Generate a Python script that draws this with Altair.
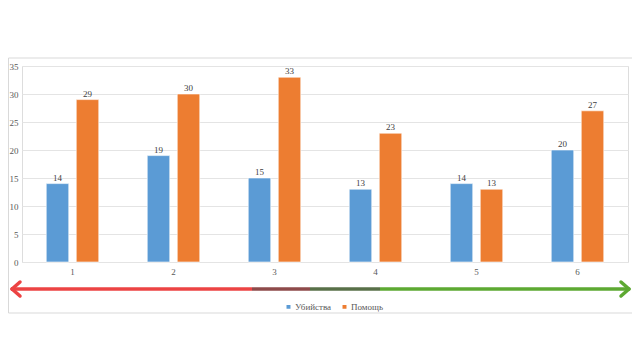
import altair as alt
import pandas as pd

categories = ["1", "2", "3", "4", "5", "6"]
kills = [14, 19, 15, 13, 14, 20]
helps = [29, 30, 33, 23, 13, 27]
series_names = ["Убийства", "Помощь"]
colors = ["#5B9BD5", "#ED7D31"]

rows = []
for c, k, h in zip(categories, kills, helps):
    rows.append({"cat": c, "series": series_names[0], "value": k})
    rows.append({"cat": c, "series": series_names[1], "value": h})
df = pd.DataFrame(rows)

W, H = 606, 196
FONT = "Liberation Serif"

x = alt.X("cat:N", sort=categories,
          scale=alt.Scale(paddingInner=0.48, paddingOuter=0.24),
          axis=alt.Axis(title=None, labelAngle=0, ticks=False, domain=False,
                        labelFont=FONT, labelFontSize=9, labelColor="#595959",
                        labelPadding=5))
xo = alt.XOffset("series:N", sort=series_names,
                 scale=alt.Scale(paddingInner=0.25))
y = alt.Y("value:Q", scale=alt.Scale(domain=[0, 35]),
          axis=alt.Axis(title=None, values=list(range(0, 36, 5)), ticks=False,
                        domain=False, labelFont=FONT, labelFontSize=9,
                        labelColor="#595959", labelPadding=4,
                        gridColor="#E4E4E4", gridWidth=1))

base = alt.Chart(df)
bars = base.mark_bar(stroke="white", strokeWidth=0.6).encode(
    x=x, xOffset=xo, y=y,
    color=alt.Color("series:N", sort=series_names,
                    scale=alt.Scale(domain=series_names, range=colors),
                    legend=alt.Legend(title=None, orient="none", legendX=262, legendY=236,
                                      direction="horizontal", symbolType="square",
                                      symbolSize=30, labelFont=FONT, labelFontSize=9,
                                      labelColor="#595959", columnPadding=6,
                                      symbolOffset=0, labelOffset=2)))
labels = base.mark_text(dy=-6, font=FONT, fontSize=9, color="#404040").encode(
    x=x, xOffset=xo, y=y, text="value:Q")

# decorative frame and arrow
frame = alt.Chart(pd.DataFrame({"a": [0]})).mark_rect(
    fill=None, stroke="#D9D9D9", strokeWidth=1).encode(
    x=alt.value(-13.5), x2=alt.value(611.5), y=alt.value(-8), y2=alt.value(247))

AY = 223
seg_specs = [(-11, 230, "#EC4343"), (230, 288, "#8E4A4A"),
             (288, 358, "#587048"), (358, 606, "#5DA932")]
arrow_layers = []
for x1, x2, col in seg_specs:
    arrow_layers.append(alt.Chart(pd.DataFrame({"a": [0]})).mark_rule(
        color=col, strokeWidth=3.5).encode(
        x=alt.value(x1), x2=alt.value(x2), y=alt.value(AY)))
# arrow heads
for (tx, dx, col) in [(-10, 8, "#EC4343"), (607, -8, "#5DA932")]:
    for dy in (-7, 7):
        arrow_layers.append(alt.Chart(pd.DataFrame({"a": [0]})).mark_rule(
            color=col, strokeWidth=3.5, strokeCap="round").encode(
            x=alt.value(tx), x2=alt.value(tx + dx),
            y=alt.value(AY), y2=alt.value(AY + dy)))

chart = alt.layer(frame, bars, labels, *arrow_layers).properties(
    width=W, height=H,
    autosize=alt.AutoSizeParams(type="none"),
    padding={"left": 14, "top": 58, "right": 4, "bottom": 90},
).configure_view(stroke=None).configure(background="white")

chart.save("out.html", embed_options={"renderer": "svg", "actions": False})
